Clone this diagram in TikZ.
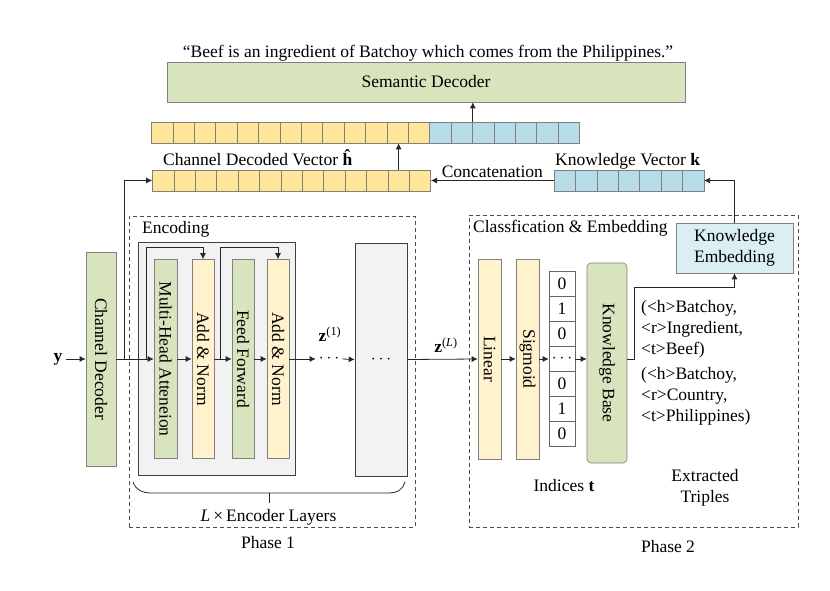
\documentclass[tikz,border=0pt]{standalone}
\usepackage{fontspec}
\setmainfont{Liberation Serif}
\usepackage{xcolor}
\usetikzlibrary{positioning, calc, arrows.meta}

\definecolor{cgreen}{HTML}{D7E4BD}
\definecolor{cpale}{HTML}{FFF2CC}
\definecolor{cyel}{HTML}{FFE699}
\definecolor{cblue}{HTML}{B7DEE8}
\definecolor{clblue}{HTML}{DAEEF3}
\definecolor{cgray}{HTML}{F2F2F2}

\begin{document}
\begin{tikzpicture}[
  x=1pt, y=-1pt,
  font=\fontsize{17.5}{21}\selectfont,
  box/.style={draw=black!50, line width=0.6pt, inner sep=0pt},
  greenbox/.style={box, fill=cgreen},
  palebox/.style={box, fill=cpale},
  graybox/.style={box, draw=black!75, fill=cgray},
  ycell/.style={box, fill=cyel, minimum width=\cw pt, minimum height=\ch pt},
  bcell/.style={box, fill=cblue, minimum width=\cw pt, minimum height=\ch pt},
  phase/.style={draw=black!70, line width=0.7pt, dash pattern=on 4pt off 3pt, inner sep=0pt},
  conn/.style={draw=black!85, line width=0.8pt},
  arr/.style={conn, -{Latex[length=6pt, width=6pt]}},
]
\useasboundingbox (0,0) rectangle (830,591);

% cell size of the vectors
\pgfmathsetmacro{\cw}{21.4}
\pgfmathsetmacro{\ch}{21}
% y of the main row
\pgfmathsetmacro{\ym}{359}

% ---- top: decoder and vectors ----
\node (quote) at (428,53) {“Beef is an ingredient of Batchoy which comes from the Philippines.”};
\node[greenbox, minimum width=518pt, minimum height=40pt] (sem) at (426,82) {Semantic Decoder};

% concatenated vector: 13 yellow + 7 blue
\foreach \i in {0,...,12}{
  \node[ycell] (u\i) at (151.5+\i*\cw+0.5*\cw, 132.5) {};
}
\foreach \i in {13,...,19}{
  \node[bcell] (u\i) at (151.5+\i*\cw+0.5*\cw, 132.5) {};
}
% channel decoded vector
\foreach \i in {0,...,12}{
  \node[ycell] (l\i) at (152.5+\i*\cw+0.5*\cw, 180.5) {};
}
% knowledge vector
\foreach \i in {0,...,6}{
  \node[bcell] (k\i) at (554+\i*\cw+0.5*\cw, 180.5) {};
}
\node[anchor=base west, inner sep=0pt] (hlab) at (163,165) {Channel Decoded Vector \textbf{ĥ}};
\node[anchor=base west, inner sep=0pt] (klab) at (555,165) {Knowledge Vector \textbf{k}};

\draw[arr] (u14.north east) -- (u14.north east |- sem.south);
\draw[arr] (l11.north) -- (l11.north |- u11.south);
\draw[arr] (k0.west) -- node[above, inner sep=2pt] {Concatenation} (l12.east);

% ---- phase 1 ----
\node[phase, minimum width=286pt, minimum height=311pt] (ph1) at (272,371.5) {};
\node[anchor=west, inner sep=0pt] (enclab) at (142,229) {Encoding};

\node (yin) at (58,\ym) {\textbf{y}};
\node[greenbox, minimum width=30pt, minimum height=214pt] (cd) at (101,\ym) {\rotatebox{-90}{Channel Decoder}};

\node[graybox, minimum width=157pt, minimum height=233pt] (enc) at (216.5,358.5) {};
\node[greenbox, minimum width=23pt, minimum height=199pt] (mha) at (165.5,\ym) {\rotatebox{-90}{Multi-Head Atteneion}};
\node[palebox, minimum width=22pt, minimum height=199pt] (an1) at (203,\ym) {\rotatebox{-90}{Add \& Norm}};
\node[greenbox, minimum width=22pt, minimum height=199pt] (ff) at (243,\ym) {\rotatebox{-90}{Feed Forward}};
\node[palebox, minimum width=22pt, minimum height=199pt] (an2) at (278,\ym) {\rotatebox{-90}{Add \& Norm}};

\node[inner xsep=3pt, inner ysep=0pt] (dt1) at (329,\ym) {$\cdots$};
\node[inner sep=0pt] (z1) at (330,334) {\textbf{z}\textsuperscript{(1)}};
\node[graybox, minimum width=52pt, minimum height=233pt] (enc2) at (381,359.5) {$\cdots$};

\coordinate (sp0) at (124,\ym);
\coordinate (sp1) at (146,\ym);
\coordinate (sp2) at (220,\ym);

\draw[arr] (yin.east) -- (cd.west);
\draw[arr] (cd.east) -- (mha.west);
\draw[arr] (sp0) |- (l0.west);
\draw[arr] (mha.east) -- (an1.west);
\draw[arr] (an1.east) -- (ff.west);
\draw[arr] (ff.east) -- (an2.west);
\draw[arr] (an2.east) -- (dt1.west);
\draw[arr] (dt1.east) -- (enc2.west);
% residual paths
\draw[arr] (sp1) -- ++(0,-112) -| (an1.north);
\draw[arr] (sp2) -- ++(0,-112) -| (an2.north);

% brace under the layers
\draw[conn] (133,482) .. controls (136,490) and (142,493) .. (152,493) -- (388,493)
  .. controls (398,493) and (403,489) .. (405,482);
\draw[conn] (269,493) -- (269,503);
\node (llab) at (268.5,517) {\textit{L}\,×\,Encoder Layers};
\node (p1lab) at (268,543) {Phase 1};

% ---- phase 2 ----
\node[phase, minimum width=329pt, minimum height=312pt] (ph2) at (633.5,371) {};
\node[anchor=west, inner sep=0pt] (clab) at (473,228) {Classfication \& Embedding};

\node (zL) at (446,345) {\textbf{z}\textsuperscript{(\textit{L})}};
\node[palebox, minimum width=23pt, minimum height=200pt] (lin) at (489.5,\ym) {\rotatebox{-90}{Linear}};
\node[palebox, minimum width=23pt, minimum height=200pt] (sig) at (527.5,\ym) {\rotatebox{-90}{Sigmoid}};
\foreach \v [count=\k from 0] in {0,1,0,$\cdots$,0,1,0}{
  \node[box, draw=black!60, fill=white, minimum width=26pt, minimum height=25pt] (t\k) at (562,284+\k*25) {\v};
}
\node[greenbox, rounded corners=4pt, minimum width=40pt, minimum height=200pt] (kb) at (607,363) {\rotatebox{-90}{Knowledge Base}};
\node[box, fill=clblue, align=center, minimum width=117pt, minimum height=50pt] (ke) at (734.5,248) {Knowledge\\Embedding};

\draw[arr] (enc2.east) -- (lin.west);
\draw[arr] (lin.east) -- (sig.west);
\draw[arr] (sig.east) -- (t3.west);
\draw[arr] (t3.east) -- (kb.west |- t3.east);
\draw[arr] (kb.east |- t3.east) -- ++(7,0) -- ++(0,-72) -| (ke.south);
\draw[arr] (ke.north) |- (k6.east);

\node[anchor=north west, align=left, inner sep=0pt] (tr1) at (641,300) {(<h>Batchoy,\\<r>Ingredient,\\<t>Beef)};
\node[anchor=north west, align=left, inner sep=0pt] (tr2) at (641,367) {(<h>Batchoy,\\<r>Country,\\<t>Philippines)};
\node (tlab) at (564,486) {Indices \textbf{t}};
\node[align=center] (xlab) at (705,488) {Extracted\\Triples};
\node (p2lab) at (668,547) {Phase 2};

\end{tikzpicture}
\end{document}
